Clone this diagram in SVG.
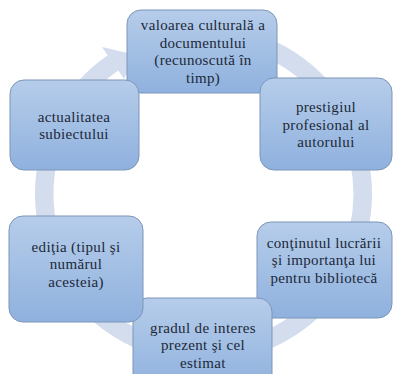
<svg xmlns="http://www.w3.org/2000/svg" width="395" height="374" viewBox="0 0 395 374">
  <defs>
    <linearGradient id="boxFill" x1="0" y1="0" x2="0" y2="1">
      <stop offset="0" stop-color="#b6cdea"/>
      <stop offset="1" stop-color="#8fb1de"/>
    </linearGradient>
    <style>
      .box { fill: url(#boxFill); stroke: #7d95b8; stroke-width: 1; }
      .lbl { font-family: "Liberation Serif", "Times New Roman", serif; font-size: 15px; letter-spacing: 0.35px; fill: #1c2838; text-anchor: middle; }
      .ring { fill: none; stroke: #d3ddee; stroke-width: 18.5; }
      .head { fill: #d3ddee; }
    </style>
  </defs>
  <rect width="395" height="374" fill="#ffffff"/>
  <g id="connectors">
    <path class="ring" d="M181.34,36.30 A159.25,159.25 0 1 1 113.07,62.91"/>
    <polygon class="head" points="102,47 136,55 124,78.8"/>
  </g>
  <g id="node-valoarea">
    <rect class="box" x="127" y="10" width="150" height="83" rx="14"/>
    <text class="lbl"><tspan x="203" y="30">valoarea culturală a</tspan><tspan x="203" y="47.5">documentului</tspan><tspan x="203" y="65">(recunoscută în</tspan><tspan x="203" y="82.5">timp)</tspan></text>
  </g>
  <g id="node-prestigiul">
    <rect class="box" x="260" y="78" width="132" height="92" rx="14"/>
    <text class="lbl"><tspan x="326" y="112">prestigiul</tspan><tspan x="326" y="129.5">profesional al</tspan><tspan x="326" y="147">autorului</tspan></text>
  </g>
  <g id="node-continutul">
    <rect class="box" x="257" y="222" width="135" height="96" rx="14"/>
    <text class="lbl"><tspan x="324" y="247.5">conţinutul lucrării</tspan><tspan x="324" y="265">şi importanţa lui</tspan><tspan x="324" y="282.5">pentru bibliotecă</tspan></text>
  </g>
  <g id="node-gradul">
    <rect class="box" x="133" y="298" width="139" height="92" rx="14"/>
    <text class="lbl"><tspan x="203" y="332.5">gradul de interes</tspan><tspan x="203" y="350">prezent şi cel</tspan><tspan x="203" y="367.5">estimat</tspan></text>
  </g>
  <g id="node-editia">
    <rect class="box" x="9" y="216" width="134" height="106" rx="14"/>
    <text class="lbl"><tspan x="76" y="251.5">ediţia (tipul şi</tspan><tspan x="76" y="269">numărul</tspan><tspan x="76" y="286.5">acesteia)</tspan></text>
  </g>
  <g id="node-actualitatea">
    <rect class="box" x="10" y="80" width="129" height="90" rx="14"/>
    <text class="lbl"><tspan x="74" y="121.5">actualitatea</tspan><tspan x="74" y="139">subiectului</tspan></text>
  </g>
</svg>
